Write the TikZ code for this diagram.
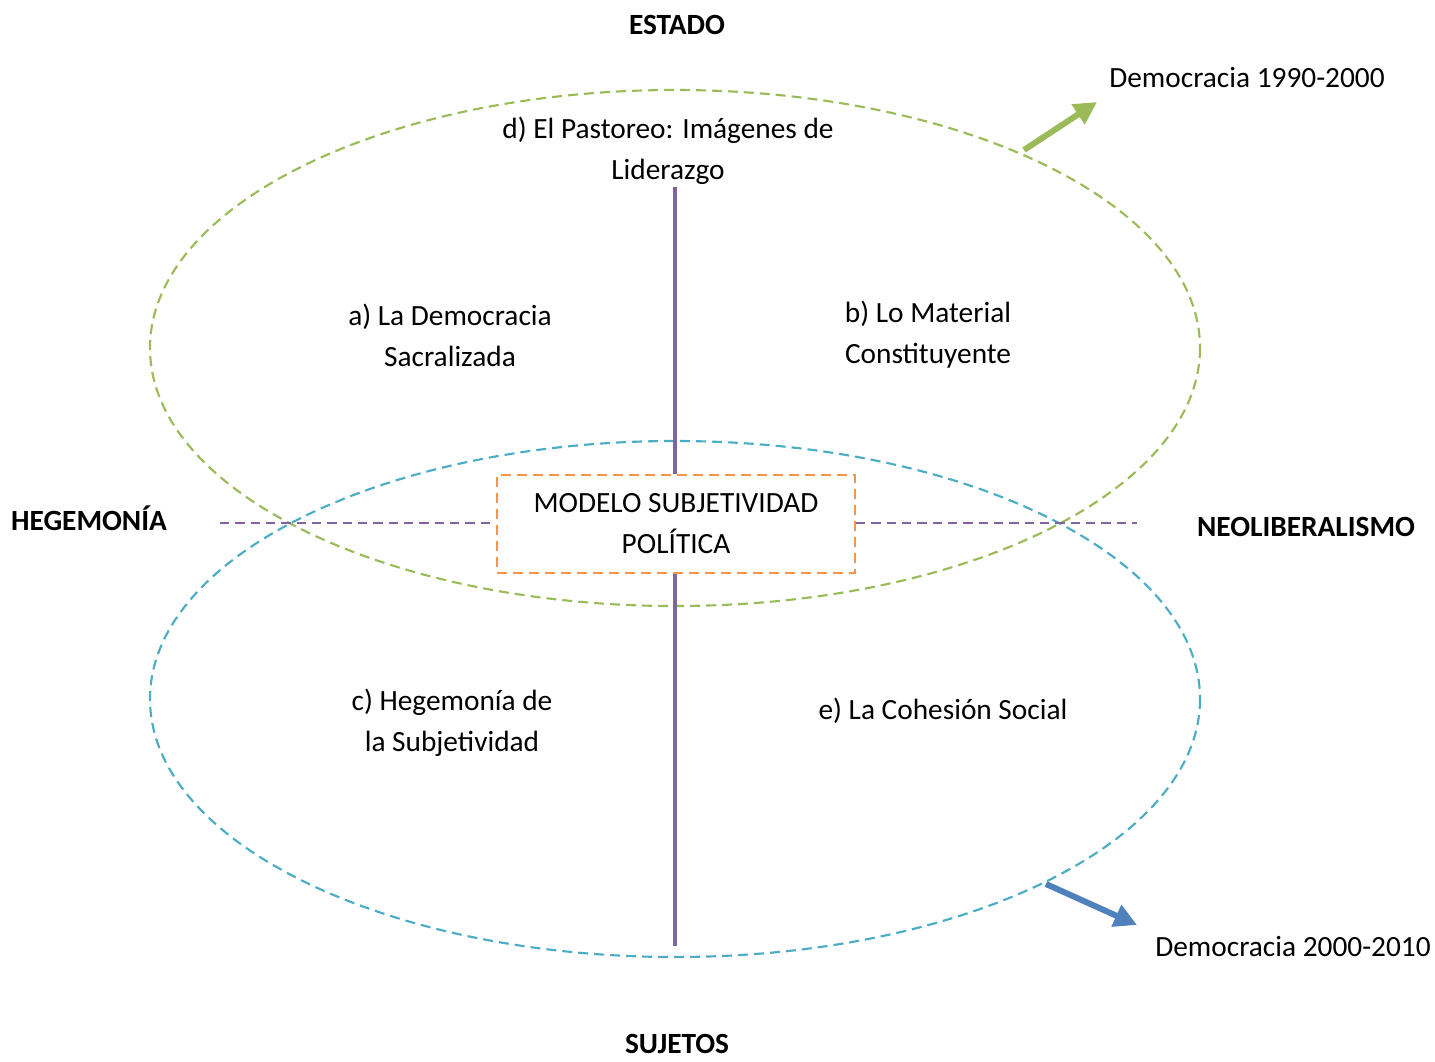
\documentclass[tikz,border=0pt]{standalone}
\usepackage{fontspec}
\setmainfont{Carlito}
\usetikzlibrary{arrows.meta}
\definecolor{dgreen}{HTML}{9BBB59}
\definecolor{dblue}{HTML}{4BACC6}
\definecolor{dpurple}{HTML}{8064A2}
\definecolor{dorange}{HTML}{F79646}
\definecolor{darrowblue}{HTML}{4F81BD}
\begin{document}
\begin{tikzpicture}[x=0.75pt,y=-0.75pt,
  txt/.style={align=center,inner sep=0pt,font=\fontsize{22}{30.75}\selectfont},
  btxt/.style={inner sep=0pt,font=\fontsize{22}{30.75}\selectfont\bfseries},
  ell/.style={dash pattern=on 7.5pt off 4.5pt,line width=1.6pt},
  axis/.style={dpurple,line width=2.8pt},
  daxis/.style={dpurple,line width=1.9pt,dash pattern=on 7pt off 4.5pt},
  fatarrow/.style={line width=4.5pt,-{Triangle[length=17pt,width=17pt]}}]
\useasboundingbox (0,0) rectangle (1435,1061);
% ellipses
\draw[ell,dgreen] (675,348) ellipse [x radius=525,y radius=258];
\draw[ell,dblue] (675,699) ellipse [x radius=525,y radius=258];
% central box
\node[draw=dorange,dash pattern=on 7.5pt off 4.5pt,line width=1.6pt,minimum width=268.5pt,minimum height=73.5pt,txt] (box) at (676,524) {MODELO SUBJETIVIDAD\\POLÍTICA};
% labels
\node[btxt] (estado) at (677,25) {ESTADO};
\node[btxt,anchor=base] (sujetos) at (677,1053) {SUJETOS};
\node[btxt] (hege) at (89,518) {HEGEMONÍA};
\node[btxt] (neo) at (1306,527) {NEOLIBERALISMO};
\node[txt] (d) at (668,151) {d) El Pastoreo: Imágenes de\\Liderazgo};
\node[txt] (a) at (450,335) {a) La Democracia\\Sacralizada};
\node[txt] (b) at (928,335) {b) Lo Material\\Constituyente};
\node[txt] (c) at (452,723) {c) Hegemonía de\\la Subjetividad};
\node[txt] (e) at (943,711) {e) La Cohesión Social};
\node[txt] (d1) at (1247,78) {Democracia 1990-2000};
\node[txt] (d2) at (1293,947) {Democracia 2000-2010};
% axes
\coordinate (vtop) at (675,187);
\coordinate (vbot) at (675,946);
\coordinate (hl) at (220,523);
\coordinate (hr) at (1137,523);
\draw[axis] (vtop) -- (vtop |- box.north);
\draw[axis] (vbot |- box.south) -- (vbot);
\draw[daxis] (hl) -- (hl -| box.west);
\draw[daxis] (hr -| box.east) -- (hr);
% arrows
\coordinate (ga) at (1024,150);
\coordinate (gb) at (1097,102);
\coordinate (ba) at (1046,884);
\coordinate (bb) at (1137,925);
\draw[fatarrow,dgreen] (ga) -- (gb);
\draw[fatarrow,darrowblue] (ba) -- (bb);
\end{tikzpicture}
\end{document}
